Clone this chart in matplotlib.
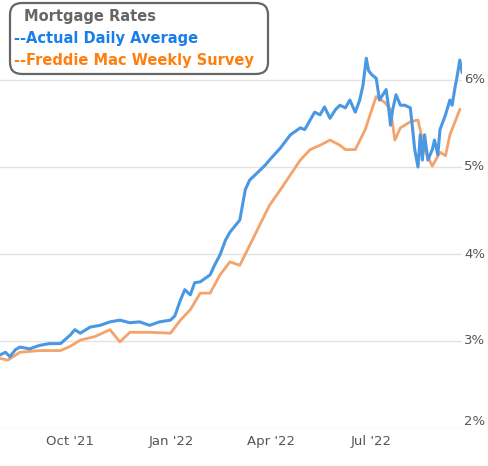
import matplotlib
matplotlib.use("Agg")
import matplotlib.pyplot as plt
import pandas as pd
from matplotlib.patches import FancyBboxPatch

start = pd.Timestamp("2021-07-29")
daily_days = [0,5,9,14,18,27,36,45,55,64,68,73,82,91,100,109,118,127,136,145,155,159,164,168,173,177,182,191,195,200,205,209,218,223,227,232,241,245,255,264,273,277,282,286,291,295,300,305,309,314,318,323,327,330,333,335,338,342,345,348,351,353,355,357,360,364,368,373,375,377,380,382,384,386,389,393,395,398,400,405,409,411,414,415,418,420]
daily_vals = [2.84,2.87,2.82,2.90,2.93,2.91,2.95,2.97,2.97,3.07,3.13,3.09,3.16,3.18,3.22,3.24,3.21,3.22,3.18,3.22,3.24,3.29,3.47,3.59,3.53,3.67,3.68,3.76,3.87,3.99,4.16,4.25,4.39,4.74,4.85,4.91,5.02,5.08,5.22,5.37,5.45,5.43,5.54,5.63,5.60,5.69,5.56,5.66,5.71,5.68,5.77,5.63,5.77,5.94,6.25,6.11,6.06,6.02,5.77,5.83,5.89,5.71,5.48,5.66,5.83,5.71,5.71,5.68,5.45,5.20,5.00,5.37,5.08,5.37,5.08,5.20,5.31,5.14,5.43,5.60,5.77,5.71,5.94,6.00,6.23,6.09]
weekly_days = [0,7,18,36,55,64,73,86,100,109,118,136,155,164,173,182,191,200,209,218,227,236,245,255,264,273,282,291,300,309,314,323,332,342,350,355,359,364,373,380,386,393,400,405,409,418]
weekly_vals = [2.80,2.78,2.87,2.89,2.89,2.94,3.01,3.05,3.13,2.99,3.10,3.10,3.09,3.24,3.36,3.55,3.55,3.76,3.91,3.87,4.10,4.33,4.56,4.74,4.91,5.08,5.20,5.25,5.31,5.25,5.20,5.20,5.43,5.81,5.74,5.66,5.31,5.45,5.52,5.54,5.20,5.01,5.17,5.13,5.37,5.66]
xtick_labels = ["Oct '21", "Jan '22", "Apr '22", "Jul '22"]
xtick_dates = ["2021-10-01", "2022-01-01", "2022-04-01", "2022-07-01"]
yticks = [2, 3, 4, 5, 6]

dd = start + pd.to_timedelta(daily_days, unit="D")
wd = start + pd.to_timedelta(weekly_days, unit="D")

W, H = 488, 466
fig = plt.figure(figsize=(W/100, H/100), dpi=100)
ax = fig.add_axes([0, 38/H, 462/W, 428/H])
ax.plot(dd, daily_vals, color="#4a98e3", lw=2.2, zorder=3)
ax.plot(wd, weekly_vals, color="#f4a36a", lw=2.0, zorder=2)
ax.set_ylim(2, 2 + 428/87)
ax.set_xlim(start, start + pd.Timedelta(days=420))
for y in yticks:
    ax.axhline(y, color="#e3e3e3", lw=1, zorder=1)
    ax.text(1.005, (y - 2) / (428/87), f"{y}%", transform=ax.transAxes,
            ha="left", va="center" if y > 2 else "bottom", fontsize=9.5, color="#555555")
ax.set_yticks([])
ax.set_xticks(pd.to_datetime(xtick_dates))
ax.set_xticklabels(xtick_labels, fontsize=9.5, color="#555555")
ax.tick_params(axis="x", length=0, pad=5)
for s in ax.spines.values():
    s.set_visible(False)

patch = FancyBboxPatch((10/W, 1 - 74/H), 258/W, 71/H,
                       boxstyle="round,pad=0,rounding_size=0.025",
                       transform=fig.transFigure, fc="white", ec="#666666", lw=1.6, zorder=10)
fig.add_artist(patch)
fig.text(24/W, 1 - 16/H, "Mortgage Rates", fontsize=10.5, fontweight="bold", color="#666666", va="center", zorder=11)
fig.text(14/W, 1 - 38/H, "--Actual Daily Average", fontsize=10.5, fontweight="bold", color="#1a7ee8", va="center", zorder=11)
fig.text(14/W, 1 - 61/H, "--Freddie Mac Weekly Survey", fontsize=10.5, fontweight="bold", color="#ff7f0e", va="center", zorder=11)
fig.savefig("out.png", dpi=100)
